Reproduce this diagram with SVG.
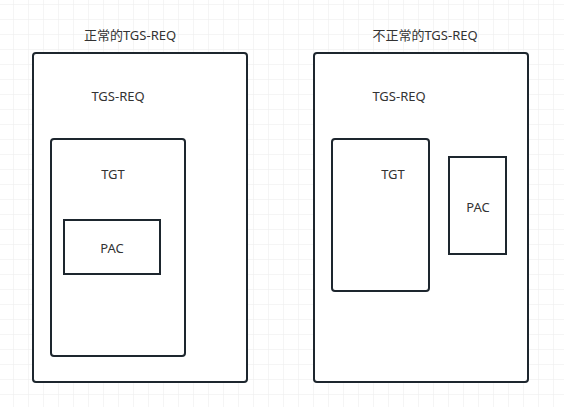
<svg xmlns="http://www.w3.org/2000/svg" width="564" height="407" viewBox="0 0 564 407">
<defs>
<pattern id="grid" x="13" y="4" width="15" height="15" patternUnits="userSpaceOnUse">
<path d="M0 0 H15 M0 0 V15" fill="none" stroke="#ebebeb" stroke-width="1"/>
</pattern>
<style>
.box{fill:#ffffff;stroke:#1d262e;stroke-width:2}
.t{font-family:"Noto Sans","Noto Sans CJK SC",sans-serif;font-size:13px;fill:#333333;text-anchor:middle;dominant-baseline:central}
</style>
</defs>
<rect x="0" y="0" width="564" height="407" fill="#ffffff"/>
<rect x="0" y="0" width="564" height="407" fill="url(#grid)"/>
<g id="left-title"><text class="t" x="130" y="35">正常的TGS-REQ</text></g>
<g id="left-req"><rect class="box" x="33" y="53" width="214" height="329" rx="3"/><text class="t" x="118" y="96">TGS-REQ</text></g>
<g id="left-tgt"><rect class="box" x="51" y="139" width="134" height="217" rx="3"/><text class="t" x="113" y="174">TGT</text></g>
<g id="left-pac"><rect class="box" x="64" y="220" width="96" height="54"/><text class="t" x="112" y="248">PAC</text></g>
<g id="right-title"><text class="t" x="425" y="35">不正常的TGS-REQ</text></g>
<g id="right-req"><rect class="box" x="314" y="53" width="214" height="329" rx="3"/><text class="t" x="399" y="96">TGS-REQ</text></g>
<g id="right-tgt"><rect class="box" x="332" y="139" width="97" height="152" rx="3"/><text class="t" x="393" y="174">TGT</text></g>
<g id="right-pac"><rect class="box" x="449" y="157" width="57" height="97"/><text class="t" x="478" y="207">PAC</text></g>
<g id="connectors"></g>
</svg>
